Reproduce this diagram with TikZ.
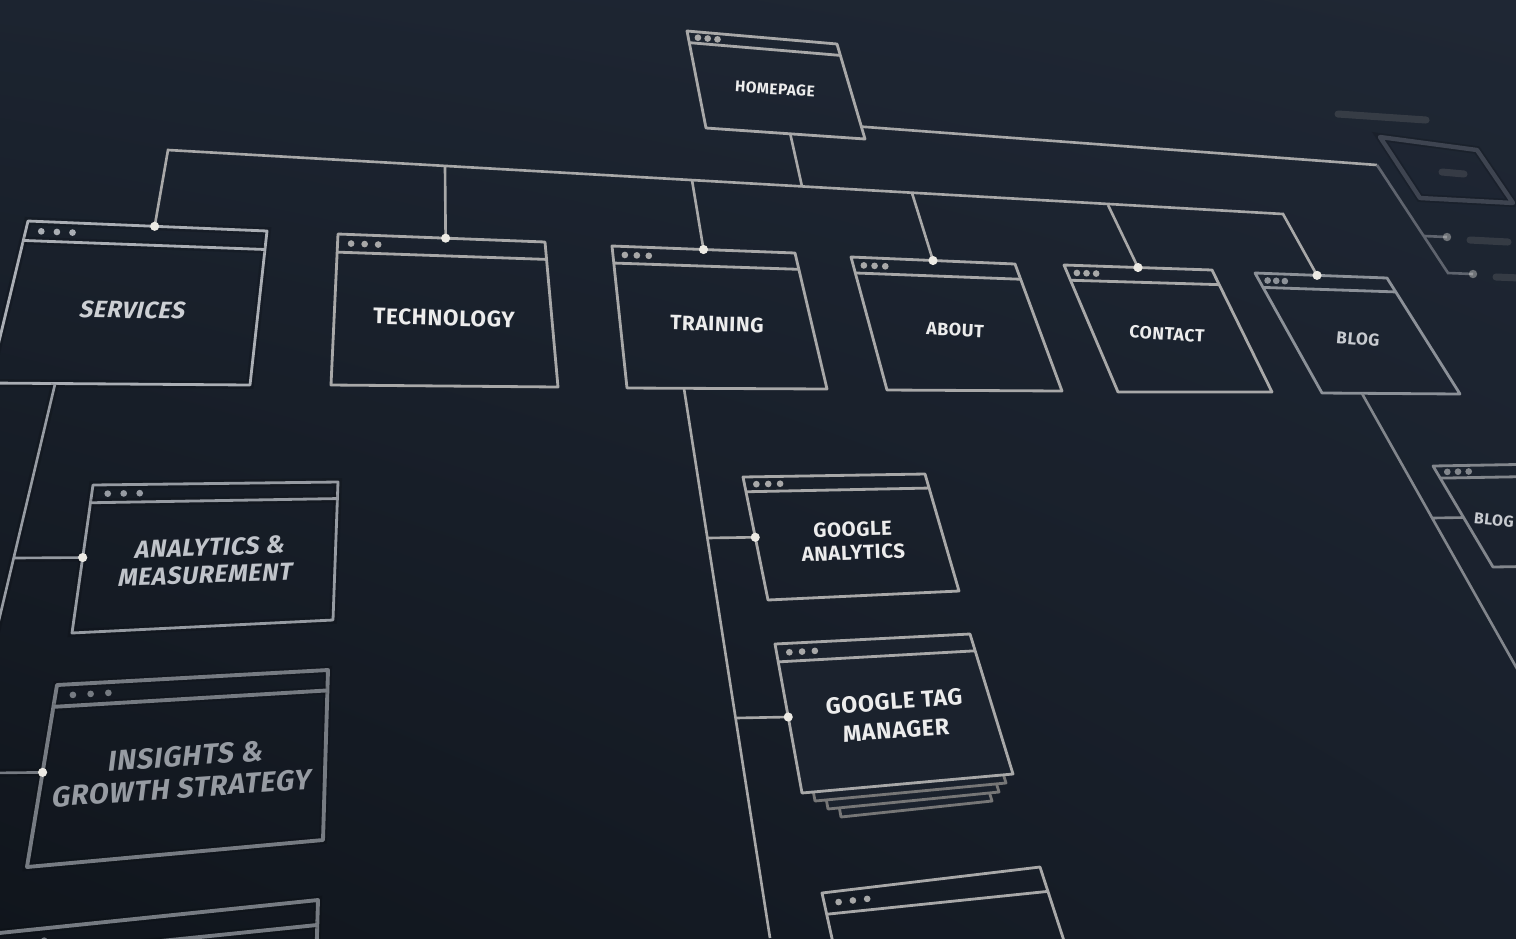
\documentclass[tikz,border=0pt]{standalone}
\usepackage{fontspec}
\setmainfont{Fira Sans}
\newfontfamily\lblfont[LetterSpace=3]{Fira Sans}
\usetikzlibrary{calc,shadings}

\definecolor{linegray}{RGB}{168,168,168}
\definecolor{stackgray}{RGB}{118,118,118}
\definecolor{ink}{RGB}{236,236,236}
\definecolor{dotwhite}{RGB}{236,234,228}
\definecolor{bgmid}{RGB}{27,34,45}
\definecolor{bgul}{RGB}{28,36,48}
\definecolor{bgur}{RGB}{31,39,52}
\definecolor{bgll}{RGB}{16,21,28}
\definecolor{bglr}{RGB}{24,31,42}

\begin{document}
\begin{tikzpicture}
	[
	 x = 0.02cm, y = -0.02cm,
	 frame/.style = {draw=linegray, line width=1.6pt, line join=round},
	 wire/.style = {draw=linegray, line width=1.5pt},
	 pip/.style = {fill=linegray},
	 joint/.style = {fill=dotwhite},
	 boxfill/.style = {},
	 pagename/.style = {text=ink, font=\lblfont\bfseries, align=center, inner sep=0pt},
	 hazy/.style = {preaction={draw, line width=4.5pt, opacity=.13}},
	 blurbar/.style = {draw=#1, line width=4pt, line cap=round, opacity=.25}
	]

	\newcommand{\webpage}[5]{%
		\coordinate (#1-tl) at #2;
		\coordinate (#1-tr) at #3;
		\coordinate (#1-br) at #4;
		\coordinate (#1-bl) at #5;
		\draw[frame, boxfill] (#1-tl) -- (#1-tr) -- (#1-br) -- (#1-bl) -- cycle;
		\draw[frame] ($(#1-tl)!0.12!(#1-bl)$) -- ($(#1-tr)!0.12!(#1-br)$);
		\coordinate (#1-d0) at ($(#1-tl)!0.06!(#1-bl)$);
		\coordinate (#1-d1) at ($(#1-tr)!0.06!(#1-br)$);
		\foreach \k in {1,2,3}
			\fill[pip] ($(#1-d0)!\k*0.065!(#1-d1)$) circle (1.9pt);
	}

	\shade[upper left=bgul, upper right=bgur, lower left=bgll, lower right=bglr]
		(0,0) rectangle (1516,938);
	\useasboundingbox (0,0) rectangle (1516,938);
	\clip (0,0) rectangle (1516,938);

	% top row
	\webpage{home}{(687,31)}{(837,44)}{(865,139)}{(706,128)}
	\webpage{tech}{(338,234)}{(545,242)}{(558,387)}{(331,385)}
	\webpage{trn}{(612,246)}{(795,253)}{(827,389)}{(627,388)}
	\webpage{abt}{(851,257)}{(1015,264)}{(1062,391)}{(887,390)}
	\webpage{cnt}{(1064,265)}{(1212,270)}{(1272,392)}{(1118,392)}
	\begin{scope}[frame/.append style={draw={rgb,255:red,170;green,174;blue,180}, hazy},
	              pip/.append style={fill={rgb,255:red,170;green,174;blue,180}}]
		\webpage{srv}{(28,221)}{(267,231)}{(250,385)}{(-11,383)}
	\end{scope}
	\begin{scope}[frame/.append style={draw={rgb,255:red,140;green,145;blue,152}},
	              pip/.append style={fill={rgb,255:red,140;green,145;blue,152}}]
		\webpage{blog}{(1255,273)}{(1387,278)}{(1460,394)}{(1322,393)}
	\end{scope}

	% left column
	\begin{scope}[frame/.append style={draw={rgb,255:red,150;green,155;blue,162}, hazy},
	              pip/.append style={fill={rgb,255:red,150;green,155;blue,162}}]
		\webpage{ana}{(93,485)}{(338,482)}{(333,620)}{(72,633)}
	\end{scope}
	\begin{scope}[frame/.append style={draw={rgb,255:red,118;green,123;blue,130}, line width=2.2pt, hazy},
	              pip/.append style={fill={rgb,255:red,118;green,123;blue,130}}]
		\webpage{ins}{(57,685)}{(328,670)}{(323,840)}{(27,867)}
		\webpage{srvc}{(-20,935)}{(318,900)}{(312,1108)}{(-54,1143)}
	\end{scope}

	% training column
	\webpage{ga}{(743,477)}{(925,474)}{(959,591)}{(768,600)}
	\foreach \k in {3,2,1}
		\draw[frame, draw=stackgray, fill=bgmid]
			(775+13*\k,644+8*\k) -- (970-7*\k,634+9*\k) -- (1013-7*\k,774+9*\k) -- (802+13*\k,793+8*\k) -- cycle;
	\begin{scope}[boxfill/.style={fill=bgmid}]
		\webpage{gtm}{(775,644)}{(970,634)}{(1013,774)}{(802,793)}
	\end{scope}
	\webpage{more}{(822,893)}{(1040,867)}{(1106,1070)}{(861,1070)}

	% right side, out of focus
	\begin{scope}[frame/.append style={draw={rgb,255:red,130;green,134;blue,140}},
	              pip/.append style={fill={rgb,255:red,130;green,134;blue,140}}]
		\webpage{blogb}{(1433,466)}{(1600,463)}{(1620,565)}{(1493,567)}
	\end{scope}
	\draw[frame, draw={rgb,255:red,62;green,68;blue,80}, line width=2.5pt, hazy]
		(1380,137) -- (1477,150) -- (1513,203) -- (1420,198) -- cycle;
	\draw[blurbar=gray] (1338,114) -- (1426,120);
	\draw[blurbar=gray] (1442,172) -- (1464,174);
	\draw[blurbar=gray] (1470,240) -- (1508,242);
	\draw[blurbar=gray] (1496,277) -- (1520,278);

	% labels
	\node[pagename, font=\lblfont\bfseries\fontsize{8.8}{8.8}\selectfont, rotate=-3.5] (home-txt) at (775,89) {HOMEPAGE};
	\node[pagename, text={rgb,255:red,205;green,208;blue,212}, font=\lblfont\bfseries\fontsize{13.5}{13.5}\selectfont, rotate=-1, xslant=.22] (srv-txt) at (133,310) {SERVICES};
	\node[pagename, font=\lblfont\bfseries\fontsize{12.8}{12.8}\selectfont, rotate=-1.5] (tech-txt) at (444,318) {TECHNOLOGY};
	\node[pagename, font=\lblfont\bfseries\fontsize{11.8}{11.8}\selectfont, rotate=-1.5] (trn-txt) at (717,324) {TRAINING};
	\node[pagename, font=\lblfont\bfseries\fontsize{10.2}{10.2}\selectfont, rotate=-2.5] (abt-txt) at (955,330) {ABOUT};
	\node[pagename, font=\lblfont\bfseries\fontsize{10}{10}\selectfont, rotate=-3.5] (cnt-txt) at (1167,334) {CONTACT};
	\node[pagename, text={rgb,255:red,200;green,203;blue,208}, font=\lblfont\bfseries\fontsize{9.8}{9.8}\selectfont, rotate=-5] (blog-txt) at (1358,339) {BLOG};
	\node[pagename, text={rgb,255:red,192;green,196;blue,202}, font=\lblfont\bfseries\fontsize{14}{15.5}\selectfont, rotate=2, xslant=.2] (ana-txt) at (208,561) {ANALYTICS \&\\MEASUREMENT};
	\node[pagename, text={rgb,255:red,150;green,155;blue,162}, font=\lblfont\bfseries\fontsize{16.2}{18}\selectfont, rotate=4, xslant=.2] (ins-txt) at (184,772) {INSIGHTS \&\\GROWTH STRATEGY};
	\node[pagename, font=\lblfont\bfseries\fontsize{11.6}{13.2}\selectfont, rotate=2] (ga-txt) at (853,541) {GOOGLE\\ANALYTICS};
	\node[pagename, font=\lblfont\bfseries\fontsize{13.2}{16.5}\selectfont, rotate=4] (gtm-txt) at (895,716) {GOOGLE TAG\\MANAGER};
	\node[pagename, text={rgb,255:red,200;green,203;blue,208}, font=\lblfont\bfseries\fontsize{9}{9}\selectfont, rotate=-6] (blogb-txt) at (1494,520) {BLOG};

	% connectors
	\coordinate (bus-l) at (168,150);
	\coordinate (bus-r) at (1283,214);
	\coordinate (bus-tech) at (445,166);
	\coordinate (bus-trn) at (692,180);
	\coordinate (bus-home) at (802,186.5);
	\coordinate (bus-abt) at (912,193);
	\coordinate (bus-cnt) at (1108,205);
	\coordinate (home-b) at ($(home-bl)!0.53!(home-br)$);
	\coordinate (home-r) at ($(home-tr)!0.87!(home-br)$);
	\coordinate (srv-top) at ($(srv-tl)!0.53!(srv-tr)$);
	\coordinate (tech-top) at ($(tech-tl)!0.52!(tech-tr)$);
	\coordinate (trn-top) at ($(trn-tl)!0.50!(trn-tr)$);
	\coordinate (abt-top) at ($(abt-tl)!0.50!(abt-tr)$);
	\coordinate (cnt-top) at ($(cnt-tl)!0.50!(cnt-tr)$);
	\coordinate (blog-top) at ($(blog-tl)!0.47!(blog-tr)$);
	\coordinate (side-a) at (1377,165);
	\coordinate (side-b) at (1448,273);
	\coordinate (side-c) at (1473,274);
	\coordinate (side-j) at (1424,236);
	\coordinate (side-d) at (1447,237);
	\coordinate (srv-b) at (55,384);
	\coordinate (srv-end) at (-20,700);
	\coordinate (srv-j1) at (14,558);
	\coordinate (srv-j2) at (-10,773);
	\coordinate (ana-in) at ($(ana-tl)!0.49!(ana-bl)$);
	\coordinate (ins-in) at ($(ins-tl)!0.48!(ins-bl)$);
	\coordinate (trn-b) at (684,388.5);
	\coordinate (trn-end) at (770,938);
	\coordinate (trn-j1) at (707,538);
	\coordinate (trn-j2) at (735.5,718);
	\coordinate (ga-in) at ($(ga-tl)!0.49!(ga-bl)$);
	\coordinate (gtm-in) at ($(gtm-tl)!0.49!(gtm-bl)$);
	\coordinate (blog-b) at (1362,393.5);
	\coordinate (blog-end) at (1520,674);
	\coordinate (blog-j) at (1432,518);
	\coordinate (blogb-in) at ($(blogb-tl)!0.51!(blogb-bl)$);

	\draw[wire] (srv-top) -- (bus-l) -- (bus-r) -- (blog-top);
	\draw[wire] (home-b) -- (bus-home);
	\draw[wire] (bus-tech) -- (tech-top);
	\draw[wire] (bus-trn) -- (trn-top);
	\draw[wire] (bus-abt) -- (abt-top);
	\draw[wire] (bus-cnt) -- (cnt-top);
	\draw[wire] (home-r) -- (side-a);
	\draw[wire, draw={rgb,255:red,95;green,100;blue,110}] (side-a) -- (side-b) -- (side-c) (side-j) -- (side-d);
	\draw[wire, draw={rgb,255:red,150;green,155;blue,162}, hazy] (srv-b) -- (srv-end) (srv-j1) -- (ana-in);
	\draw[wire, draw={rgb,255:red,118;green,123;blue,130}, hazy] (srv-j2) -- (ins-in);
	\draw[wire] (trn-b) -- (trn-end);
	\draw[wire] (trn-j1) -- (ga-in);
	\draw[wire] (trn-j2) -- (gtm-in);
	\draw[wire, draw={rgb,255:red,130;green,134;blue,140}] (blog-b) -- (blog-end) (blog-j) -- (blogb-in);

	\foreach \p in {srv-top,tech-top,trn-top,abt-top,cnt-top,blog-top,ga-in,gtm-in,ana-in,ins-in}
		\fill[joint] (\p) circle (2.6pt);
	\fill[joint, opacity=.4] (side-c) circle (2.4pt) (side-d) circle (2.4pt);
\end{tikzpicture}
\end{document}
